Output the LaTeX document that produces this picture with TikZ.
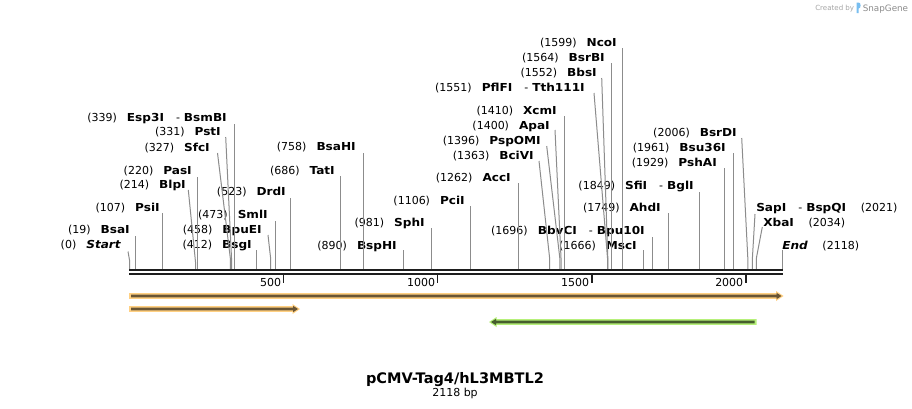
\documentclass[tikz,border=0pt]{standalone}
\usepackage{fontspec}
\setmainfont{DejaVu Sans}[BoldItalicFont={DejaVu Sans Bold Oblique}]
\newfontface\bnf{DejaVu Sans Bold}[FakeStretch=1.1]
\newfontface\bif{DejaVu Sans Bold Oblique}[FakeStretch=1.1]
\definecolor{cutgray}{RGB}{140,140,140}
\definecolor{barc}{RGB}{30,30,30}
\definecolor{orhalo}{RGB}{255,208,130}
\definecolor{orline}{RGB}{105,85,52}
\definecolor{grhalo}{RGB}{182,240,122}
\definecolor{grline}{RGB}{70,95,45}
\definecolor{logoblue}{RGB}{120,190,240}
\newcommand\lblfont{\fontsize{8.25pt}{9pt}\selectfont}
\newcommand\lgp{\hspace{7.5pt}}
\newcommand\rgp{\hspace{11pt}}
\newcommand\dsh{\hspace{9pt}-\hspace{3pt}}
\newcommand\nm[1]{{\bnf #1}}
\newcommand\nmi[1]{{\bif #1}}
\begin{document}
\begin{tikzpicture}[x=0.75pt,y=-0.75pt,
  lbl/.style={anchor=base east,inner sep=0pt,font=\lblfont},
  rlbl/.style={anchor=base west,inner sep=0pt,font=\lblfont},
  cut/.style={draw=cutgray,line width=0.75pt},
  tick/.style={draw=barc,line width=1.1pt},
  ticklbl/.style={anchor=base east,inner sep=0pt,font=\lblfont}]
\useasboundingbox (0,0) rectangle (912,408);
\fill[white] (0,0) rectangle (912,408);

% ---- labels (left side) ----
\node[lbl] (lStart) at (121,248) {(0)\lgp\nmi{Start}};
\node[lbl] (lBsaI) at (130,233) {(19)\lgp\nm{BsaI}};
\node[lbl] (lPsiI) at (160,211) {(107)\lgp\nm{PsiI}};
\node[lbl] (lBlpI) at (186,188) {(214)\lgp\nm{BlpI}};
\node[lbl] (lPasI) at (192,174) {(220)\lgp\nm{PasI}};
\node[lbl] (lSfcI) at (210,151) {(327)\lgp\nm{SfcI}};
\node[lbl] (lPstI) at (221,135) {(331)\lgp\nm{PstI}};
\node[lbl] (lEsp) at (227,121) {(339)\lgp\nm{Esp3I}\dsh\nm{BsmBI}};
\node[lbl] (lBsgI) at (252,248) {(412)\lgp\nm{BsgI}};
\node[lbl] (lBpuEI) at (262,233) {(458)\lgp\nm{BpuEI}};
\node[lbl] (lSmlI) at (268,218) {(473)\lgp\nm{SmlI}};
\node[lbl] (lDrdI) at (286,195) {(523)\lgp\nm{DrdI}};
\node[lbl] (lTatI) at (335,174) {(686)\lgp\nm{TatI}};
\node[lbl] (lBsaHI) at (356,150) {(758)\lgp\nm{BsaHI}};
\node[lbl] (lBspHI) at (397,249) {(890)\lgp\nm{BspHI}};
\node[lbl] (lSphI) at (425,226) {(981)\lgp\nm{SphI}};
\node[lbl] (lPciI) at (465,204) {(1106)\lgp\nm{PciI}};
\node[lbl] (lAccI) at (511,181) {(1262)\lgp\nm{AccI}};
\node[lbl] (lBciVI) at (534,159) {(1363)\lgp\nm{BciVI}};
\node[lbl] (lPspOMI) at (541,144) {(1396)\lgp\nm{PspOMI}};
\node[lbl] (lApaI) at (550,129) {(1400)\lgp\nm{ApaI}};
\node[lbl] (lXcmI) at (557,114) {(1410)\lgp\nm{XcmI}};
\node[lbl] (lPflFI) at (585,91) {(1551)\lgp\nm{PflFI}\dsh\nm{Tth111I}};
\node[lbl] (lBbsI) at (597,76) {(1552)\lgp\nm{BbsI}};
\node[lbl] (lBsrBI) at (605,61) {(1564)\lgp\nm{BsrBI}};
\node[lbl] (lNcoI) at (617,46) {(1599)\lgp\nm{NcoI}};
\node[lbl] (lBbvCI) at (645,234) {(1696)\lgp\nm{BbvCI}\dsh\nm{Bpu10I}};
\node[lbl] (lMscI) at (637,249) {(1666)\lgp\nm{MscI}};
\node[lbl] (lAhdI) at (661,211) {(1749)\lgp\nm{AhdI}};
\node[lbl] (lSfiI) at (694,189) {(1849)\lgp\nm{SfiI}\dsh\nm{BglI}};
\node[lbl] (lPshAI) at (717,166) {(1929)\lgp\nm{PshAI}};
\node[lbl] (lBsu) at (726,151) {(1961)\lgp\nm{Bsu36I}};
\node[lbl] (lBsrDI) at (737,136) {(2006)\lgp\nm{BsrDI}};
% ---- labels (right side) ----
\node[rlbl] (lSapI) at (756,211) {\nm{SapI}\dsh\nm{BspQI}\rgp(2021)};
\node[rlbl] (lXbaI) at (763,226) {\nm{XbaI}\rgp(2034)};
\node[rlbl] (lEnd) at (782,249) {\nmi{End}\rgp(2118)};

% ---- cut-site lines ----
\draw[cut] (128,251.5)--(129.5,260)--(129.5,269);
\draw[cut] (135.4,236)--(135.4,269);
\draw[cut] (162.5,213)--(162.5,269);
\draw[cut] (188.3,190)--(195.5,262)--(195.5,269);
\draw[cut] (197.3,177)--(197.3,269);
\draw[cut] (217.5,153)--(230.3,258)--(230.3,269);
\draw[cut] (225.7,137)--(231.5,258)--(231.5,269);
\draw[cut] (234.0,124)--(234.0,269);
\draw[cut] (256.5,250)--(256.5,269);
\draw[cut] (268,235)--(270.7,259)--(270.7,269);
\draw[cut] (275.3,221)--(275.3,269);
\draw[cut] (290.7,198)--(290.7,269);
\draw[cut] (340.9,176)--(340.9,269);
\draw[cut] (363.1,153)--(363.1,269);
\draw[cut] (403.8,250)--(403.8,269);
\draw[cut] (431.8,228)--(431.8,269);
\draw[cut] (470.4,206)--(470.4,269);
\draw[cut] (518.4,183)--(518.4,269);
\draw[cut] (539,161)--(549.6,258)--(549.6,269);
\draw[cut] (546.7,146)--(559.8,258)--(559.8,269);
\draw[cut] (555,130)--(561.0,258)--(561.0,269);
\draw[cut] (564.1,116)--(564.1,269);
\draw[cut] (594,93)--(607.5,258)--(607.5,269);
\draw[cut] (601.7,78)--(607.8,258)--(607.8,269);
\draw[cut] (611.5,63)--(611.5,269);
\draw[cut] (622.3,48)--(622.3,269);
\draw[cut] (643.0,250)--(643.0,269);
\draw[cut] (652.2,237)--(652.2,269);
\draw[cut] (668.5,213)--(668.5,269);
\draw[cut] (699.4,192)--(699.4,269);
\draw[cut] (724.0,168)--(724.0,269);
\draw[cut] (733.9,153)--(733.9,269);
\draw[cut] (741.7,138)--(747.8,258)--(747.8,269);
\draw[cut] (755,214)--(752.4,258)--(752.4,269);
\draw[cut] (762.3,227)--(756.4,258)--(756.4,269);
\draw[cut] (782.3,250)--(782.3,269);

% ---- sequence bar ----
\draw[draw=barc,line width=1.5pt] (129,270)--(782.7,270);
\draw[draw=barc,line width=1.9pt] (129,273.9)--(782.7,273.9);
\draw[tick] (283.6,275)--(283.6,283);
\draw[tick] (437.7,275)--(437.7,283);
\draw[tick] (591.8,275)--(591.8,283);
\draw[tick] (745.9,275)--(745.9,283);
\node[ticklbl] (t500) at (281.5,286) {500};
\node[ticklbl] (t1000) at (435.5,286) {1000};
\node[ticklbl] (t1500) at (589.5,286) {1500};
\node[ticklbl] (t2000) at (743.5,286) {2000};

% ---- features ----
\fill[orhalo] (129,293.2) -- (776,293.2) -- (776,291) -- (783.5,296) -- (776,301) -- (776,298.8) -- (129,298.8) -- cycle;
\fill[orline] (131,294.7) -- (776.5,294.7) -- (776.5,292.8) -- (781.5,296) -- (776.5,299.2) -- (776.5,297.3) -- (131,297.3) -- cycle;
\fill[orhalo] (129,306.2) -- (292.5,306.2) -- (292.5,304) -- (300,309) -- (292.5,314) -- (292.5,311.8) -- (129,311.8) -- cycle;
\fill[orline] (131,307.7) -- (293,307.7) -- (293,305.8) -- (298,309) -- (293,312.2) -- (293,310.3) -- (131,310.3) -- cycle;
\fill[grhalo] (756.5,319.2) -- (496.5,319.2) -- (496.5,317) -- (489,322) -- (496.5,327) -- (496.5,324.8) -- (756.5,324.8) -- cycle;
\fill[grline] (754.5,320.7) -- (496,320.7) -- (496,318.8) -- (491,322) -- (496,325.2) -- (496,323.3) -- (754.5,323.3) -- cycle;

% ---- title ----
\node[anchor=base,inner sep=0pt,font=\bfseries\fontsize{10.9pt}{12pt}\selectfont] (title) at (455,383) {pCMV-Tag4/hL3MBTL2};
\node[anchor=base,inner sep=0pt,font=\lblfont] (bp) at (455,396.5) {2118 bp};

% ---- credit ----
\node[anchor=base west,inner sep=0pt,font=\fontsize{5.3pt}{6pt}\selectfont,text=black!35] (cr) at (815,10) {Created by};
\fill[logoblue] (856.5,2.5) -- (858.7,2.5) .. controls (861.2,2.5) and (861.2,8.5) .. (858.7,8.5) -- (858.7,13) -- (856.5,13) -- cycle;
\node[anchor=base west,inner sep=0pt,font=\fontsize{6.6pt}{7pt}\selectfont,text=black!45] (sg) at (862.5,11) {SnapGene};
\end{tikzpicture}
\end{document}
